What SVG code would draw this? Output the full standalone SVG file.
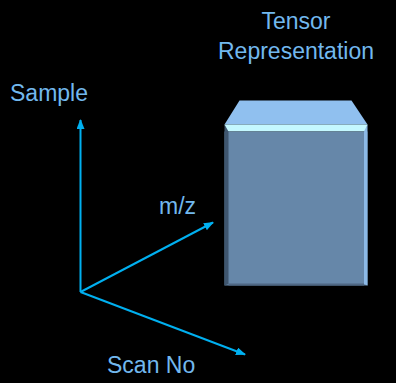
<svg xmlns="http://www.w3.org/2000/svg" width="396" height="383" viewBox="0 0 396 383">
  <style>
    .lbl { font-family: "Liberation Sans", Arial, sans-serif; font-size: 23px; fill: #72b8ee; }
    .axis { stroke: #00b0f0; stroke-width: 2; fill: none; }
  </style>
  <defs>
    <marker id="head" viewBox="0 0 10 8" refX="9" refY="4" markerWidth="10" markerHeight="8" markerUnits="userSpaceOnUse" orient="auto">
      <path d="M0,0 L10,4 L0,8 Z" fill="#00b0f0"/>
    </marker>
  </defs>
  <rect width="396" height="383" fill="#000"/>

  <!-- axis connectors -->
  <g id="axes">
    <line class="axis" x1="80.5" y1="292" x2="80.5" y2="120" marker-end="url(#head)"/>
    <line class="axis" x1="80.5" y1="292" x2="213" y2="222.5" marker-end="url(#head)"/>
    <line class="axis" x1="80.5" y1="292" x2="245" y2="354.5" marker-end="url(#head)"/>
  </g>

  <g id="label-sample"><text class="lbl" x="10" y="101">Sample</text></g>
  <g id="label-mz"><text class="lbl" x="159" y="214">m/z</text></g>
  <g id="label-scan"><text class="lbl" x="107" y="373">Scan No</text></g>

  <!-- tensor block -->
  <g id="tensor">
    <text class="lbl" x="296" y="29" text-anchor="middle">Tensor</text>
    <text class="lbl" x="296" y="59" text-anchor="middle">Representation</text>
    <polygon points="239.5,100.5 351.5,100.5 367.5,124.5 224.5,124.5" fill="#90c0ef"/>
    <polygon points="224.5,124.5 367.5,124.5 365.5,131.5 226.5,131.5" fill="#c4f8ff"/>
    <rect x="224.5" y="131.5" width="143" height="154" fill="#6687a9"/>
    <polygon points="224.5,124.5 228.5,131.5 228.5,284 224.5,285.5" fill="#3f566f"/>
    <polygon points="367.5,124.5 364,131.5 364,284 367.5,285.5" fill="#8cb9e6"/>
    <rect x="228.5" y="283.5" width="135.5" height="2" fill="#4f6783"/>
  </g>
</svg>
